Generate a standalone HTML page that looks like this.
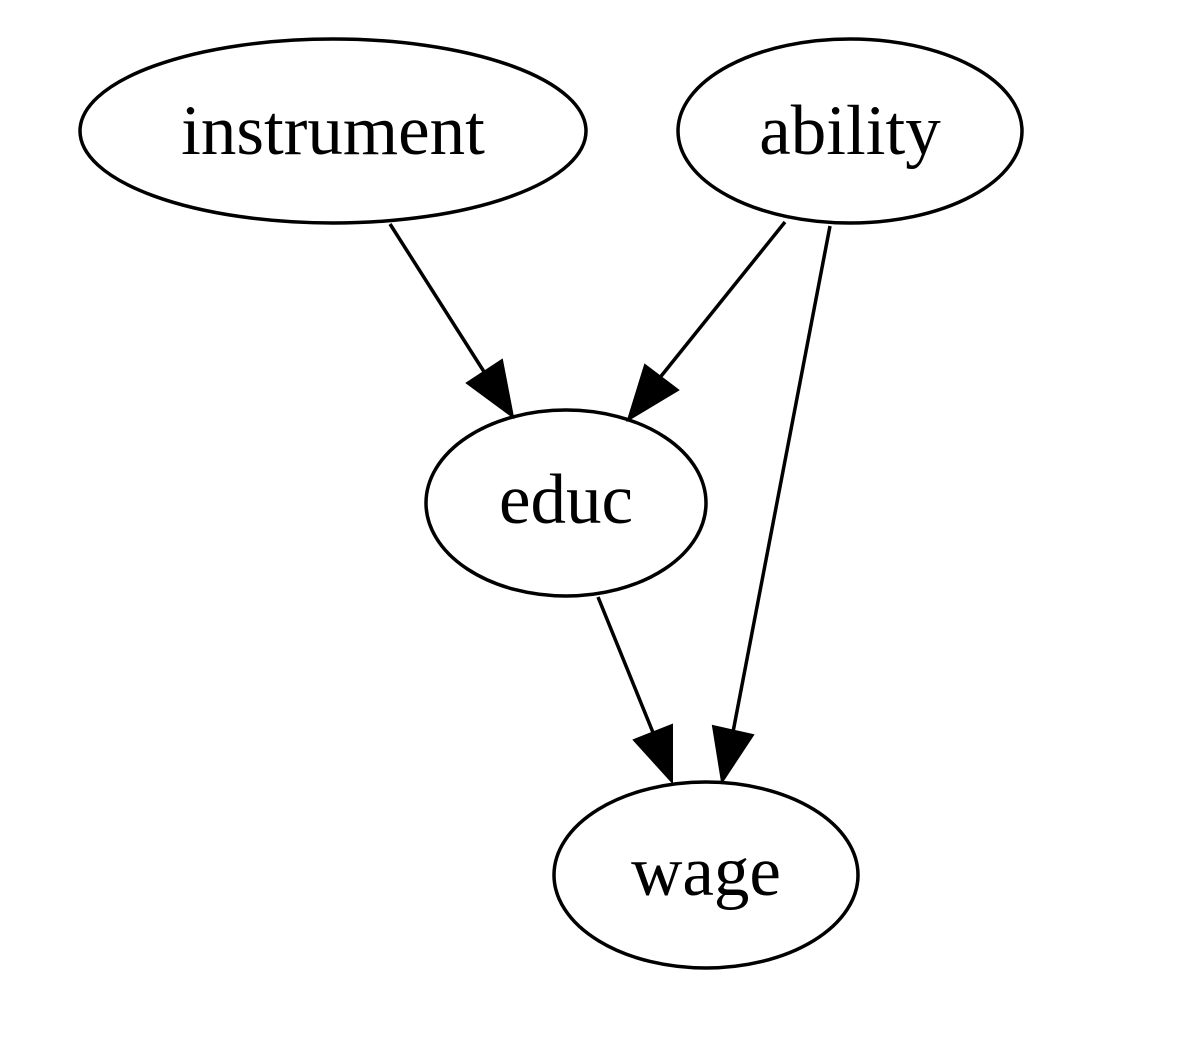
<!DOCTYPE html>
<html><head><meta charset="utf-8"><style>
html,body{margin:0;padding:0;background:#fff;}
svg{display:block;}
text{font-family:"Liberation Serif",serif;font-size:71px;fill:#000;text-anchor:middle;}
</style></head><body>
<svg width="1182" height="1062" viewBox="0 0 1182 1062">
<g fill="none" stroke="#000" stroke-width="3.5">
<ellipse cx="333" cy="131" rx="253" ry="92"/>
<ellipse cx="850" cy="131" rx="172" ry="92"/>
<ellipse cx="566" cy="503" rx="140" ry="93"/>
<ellipse cx="706" cy="875" rx="152" ry="93"/>
<line x1="390" y1="224" x2="488" y2="378"/>
<line x1="785" y1="222" x2="658" y2="380"/>
<line x1="830" y1="226" x2="733" y2="732"/>
<line x1="598" y1="597" x2="654" y2="735"/>
</g>
<g fill="#000" stroke="#000" stroke-width="2">
<polygon points="513,417 467,383 502,360"/>
<polygon points="628,420 645,365 678,390"/>
<polygon points="672,782 634,740 672,725"/>
<polygon points="722,782 713,726 753,735"/>
</g>
<text x="333" y="154">instrument</text>
<text x="850" y="154">ability</text>
<text x="566" y="523">educ</text>
<text x="706" y="895">wage</text>
</svg>
</body></html>
